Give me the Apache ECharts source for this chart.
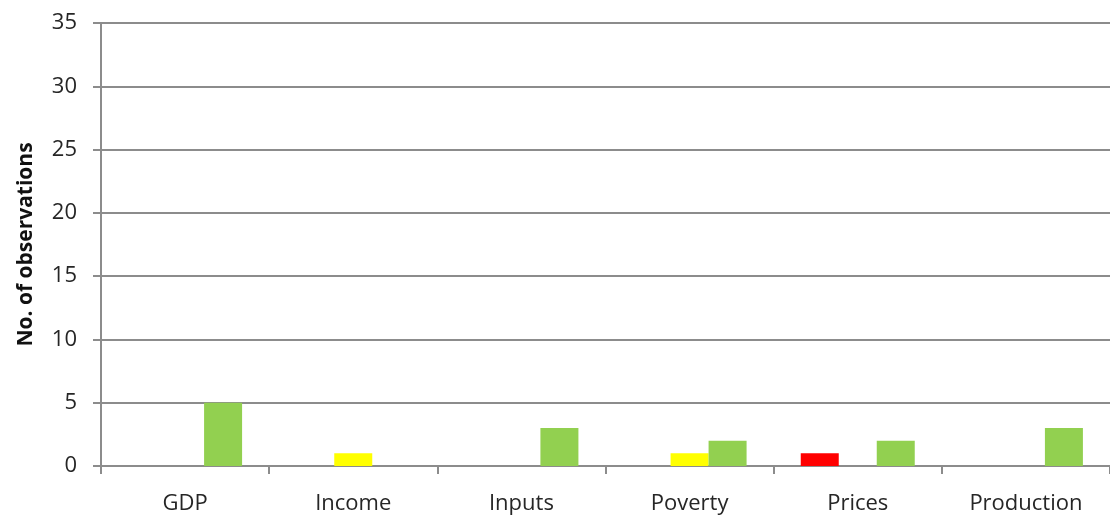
<!DOCTYPE html>
<html>
<head>
<meta charset="utf-8">
<script src="https://cdn.jsdelivr.net/npm/echarts@6/dist/echarts.min.js"></script>
<style>
  html, body { margin: 0; padding: 0; background: #fff; }
  #chart { width: 1110px; height: 516px; }
</style>
</head>
<body>
<div id="chart"></div>
<script>
var categories = ['GDP', 'Income', 'Inputs', 'Poverty', 'Prices', 'Production'];
var redValues = [0, 0, 0, 0, 1, 0];
var yellowValues = [0, 1, 0, 1, 0, 0];
var greenValues = [5, 0, 3, 2, 2, 3];

var myChart = echarts.init(document.getElementById('chart'));

var axisGray = '#8c8c8c';
var font = 'Open Sans';

myChart.setOption({
  animation: false,
  grid: { left: 101, top: 23, width: 1013, height: 443 },
  xAxis: {
    type: 'category',
    data: categories,
    axisLine: { lineStyle: { color: axisGray, width: 2 } },
    axisTick: { show: true, length: 8, alignWithLabel: false, lineStyle: { color: axisGray, width: 2 } },
    axisLabel: { color: '#262626', fontFamily: font, fontSize: 22, margin: 27 }
  },
  yAxis: {
    type: 'value',
    min: 0,
    max: 35,
    interval: 5,
    name: 'No. of observations',
    nameLocation: 'middle',
    nameGap: 64,
    nameTextStyle: { color: '#111', fontFamily: font, fontSize: 21, fontWeight: 'bold' },
    axisLine: { show: true, lineStyle: { color: axisGray, width: 2 } },
    axisTick: { show: true, length: 8, lineStyle: { color: axisGray, width: 2 } },
    axisLabel: { color: '#262626', fontFamily: font, fontSize: 22, margin: 24 },
    splitLine: { show: true, lineStyle: { color: axisGray, width: 2 } }
  },
  series: [
    { name: 'Red', type: 'bar', data: redValues, barWidth: 38, barGap: '0%', itemStyle: { color: '#ff0000' } },
    { name: 'Yellow', type: 'bar', data: yellowValues, barWidth: 38, barGap: '0%', itemStyle: { color: '#ffff00' } },
    { name: 'Green', type: 'bar', data: greenValues, barWidth: 38, barGap: '0%', itemStyle: { color: '#92d050' } }
  ]
});
</script>
</body>
</html>
